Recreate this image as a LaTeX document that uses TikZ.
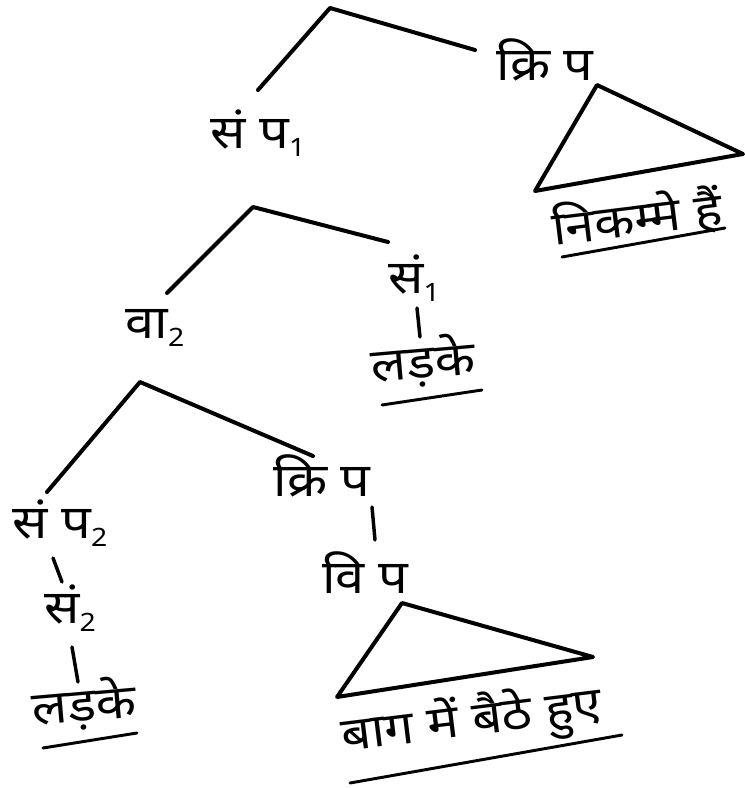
\documentclass[tikz,border=0pt]{standalone}
\usepackage{fontspec}
\newfontfamily\hindi[Script=Devanagari, FakeStretch=1.12]{Noto Sans}
\newcommand{\lowsub}[1]{\raisebox{-0.3ex}{\fontsize{19}{19}\selectfont #1}}
\begin{document}
\begin{tikzpicture}[x=0.75pt, y=-0.75pt, line cap=round, line join=round,
		branch/.style={line width=3pt},
		stem/.style={line width=2.6pt},
		uline/.style={line width=2.2pt},
		lab/.style={font=\hindi\fontsize{35}{40}\selectfont, inner sep=0pt}]
	\useasboundingbox (0,0) rectangle (744,788);
	% labels
	\node[lab] (kp1) at (545,60) {क्रि प};
	\node[lab] (sp1) at (258,133) {सं प\lowsub{1}};
	\node[lab, rotate=7] (nik) at (637,218) {निकम्मे हैं};
	\node[lab] (va2) at (155,328) {वा\lowsub{2}};
	\node[lab] (sa1) at (414,278) {सं\lowsub{1}};
	\node[lab, rotate=5] (lad1) at (423,362) {लड़के};
	\node[lab] (sp2) at (60,523) {सं प\lowsub{2}};
	\node[lab] (kp2) at (322,476) {क्रि प};
	\node[lab] (vp) at (365,573) {वि प};
	\node[lab] (sa2) at (70,608) {सं\lowsub{2}};
	\node[lab, rotate=5] (lad2) at (84,705) {लड़के};
	\node[lab, rotate=7] (bag) at (472,722) {बाग में बैठे हुए};
	% branches
	\coordinate (topL) at (258,90); \coordinate (topP) at (330,8); \coordinate (topR) at (475,50);
	\coordinate (midL) at (167,293); \coordinate (midP) at (253,207); \coordinate (midR) at (388,242);
	\coordinate (lowL) at (47,492); \coordinate (lowP) at (140,382); \coordinate (lowR) at (313,456);
	\draw[branch] (topL) -- (topP) -- (topR);
	\draw[branch] (midL) -- (midP) -- (midR);
	\draw[branch] (lowL) -- (lowP) -- (lowR);
	% stems
	\foreach \a/\b/\c/\d in {417/308/420/337, 53/558/62/582, 72/647/78/682, 372/507/375/540}
		\draw[stem] (\a,\b) -- (\c,\d);
	% triangles
	\coordinate (t1a) at (597,85); \coordinate (t1b) at (535,191); \coordinate (t1c) at (743,154);
	\coordinate (t2a) at (402,603); \coordinate (t2b) at (337,697); \coordinate (t2c) at (593,657);
	\draw[branch] (t1a) -- (t1b) -- (t1c) -- cycle;
	\draw[branch] (t2a) -- (t2b) -- (t2c) -- cycle;
	% underlines
	\draw[uline] (562,257) -- (725,228);
	\draw[uline] (382,405) -- (482,390);
	\draw[uline] (43,748) -- (137,733);
	\draw[uline] (350,783) -- (622,735);
\end{tikzpicture}
\end{document}
